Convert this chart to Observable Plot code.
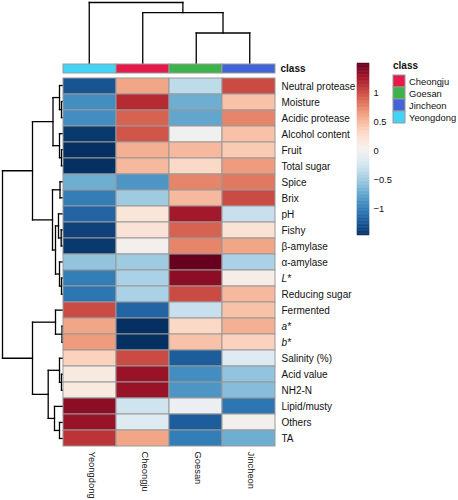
<!DOCTYPE html>
<html><head><meta charset="utf-8">
<script src="https://cdn.jsdelivr.net/npm/d3@7"></script>
<script src="https://cdn.jsdelivr.net/npm/@observablehq/plot@0.6"></script>
<style>
body{margin:0;background:#fff;font-family:"Liberation Sans",Arial,sans-serif}
#chart{position:relative;width:458px;height:500px;overflow:hidden}
#chart > *{position:absolute}
svg{overflow:visible}
.ttl{font-size:10px;font-weight:bold;color:#111;line-height:12px}
</style>
</head><body><div id="chart"></div>
<script>
const samples = ["Yeongdong","Cheongju","Goesan","Jincheon"];
const traits = ["Neutral protease","Moisture","Acidic protease","Alcohol content","Fruit","Total sugar","Spice","Brix","pH","Fishy","β-amylase","α-amylase","L*","Reducing sugar","Fermented","a*","b*","Salinity (%)","Acid value","NH2-N","Lipid/musty","Others","TA"];
const italicTraits = ["L*","a*","b*"];
const yeongdong = [-1.25,-0.9,-0.9,-1.4,-1.45,-1.45,-0.7,-1.0,-1.15,-1.35,-1.4,-0.55,-1.0,-1.05,1.0,0.6,0.65,0.35,0.15,0.15,1.35,1.3,1.1];
const cheongju  = [0.6,1.15,0.9,0.95,0.55,0.5,-0.85,-0.5,0.2,0.22,0.05,-0.5,-0.45,-0.45,-1.15,-1.45,-1.45,1.0,1.3,1.3,-0.25,-0.15,0.6];
const goesan    = [-0.35,-0.7,-0.75,0.0,0.5,0.3,0.75,0.5,1.25,0.9,0.75,1.5,1.35,1.0,-0.3,0.3,0.45,-1.2,-0.9,-0.85,-0.05,-1.2,-1.0];
const jincheon  = [1.0,0.45,0.75,0.45,0.4,0.65,0.8,1.0,-0.3,0.23,0.6,-0.45,0.1,0.5,0.45,0.55,0.35,-0.15,-0.55,-0.6,-1.05,0.05,-0.7];
const classNames = ["Cheongju","Goesan","Jincheon","Yeongdong"];
const classColors = ["#e6194B","#3cb44b","#4363d8","#42d4f4"];
const legendTicks = [1,0.5,0,-0.5,-1];
const valueDomain = [-1.45,1.5];
// hclust-style merges: negative = leaf (1-based display order), positive = earlier merge
const colMergeA = [-3,-2,-1];
const colMergeB = [-4,1,2];
const colMergeHeight = [3.1,5.1,6.1];
const rowMergeA = [-2,-1,-5,-4,2,-7,-10,-9,-13,-12,8,6,5,-16,-15,-19,-18,-22,-21,17,15,13];
const rowMergeB = [-3,1,-6,3,4,-8,-11,7,-14,9,10,11,12,-17,14,-20,16,-23,18,19,20,21];
const rowMergeHeight = [0.1,0.3,0.1,0.3,0.95,0.25,0.13,0.4,0.1,0.3,0.7,1.0,3.0,0.05,0.7,0.1,0.3,0.3,0.8,1.43,3.0,6.0];

function dendro(A,B,H){
  const nodes=[]; const segs=[];
  const get=k=>k<0?{p:-k-1,h:0}:nodes[k-1];
  for(let i=0;i<A.length;i++){
    const a=get(A[i]), b=get(B[i]), h=H[i];
    nodes.push({p:(a.p+b.p)/2,h});
    segs.push({p1:a.p,h1:a.h,p2:a.p,h2:h},{p1:a.p,h1:h,p2:b.p,h2:h},{p1:b.p,h1:h,p2:b.p,h2:b.h});
  }
  return segs;
}
const font={fontFamily:"Liberation Sans, Arial, sans-serif",fontSize:"10px",color:"#111",background:"transparent",overflow:"visible"};
const smallFont={...font,fontSize:"9.4px"};
const chart=document.getElementById("chart");
function place(el,left,top){el.style.left=left+"px";el.style.top=top+"px";chart.appendChild(el);}

// column dendrogram
place(Plot.plot({width:214,height:64,marginLeft:0,marginRight:0,marginTop:2,marginBottom:0,style:font,
  x:{domain:[-0.5,samples.length-0.5],axis:null},
  y:{domain:[0,d3.max(colMergeHeight)],axis:null},
  marks:[Plot.link(dendro(colMergeA,colMergeB,colMergeHeight),{x1:"p1",y1:"h1",x2:"p2",y2:"h2",stroke:"#000",strokeWidth:1.3,strokeLinecap:"square"})]
}),62,0);

// row dendrogram
place(Plot.plot({width:62,height:369,marginLeft:2,marginRight:0,marginTop:0,marginBottom:0,style:font,
  x:{domain:[0,d3.max(rowMergeHeight)],reverse:true,axis:null},
  y:{domain:[-0.5,traits.length-0.5],reverse:true,axis:null},
  marks:[Plot.link(dendro(rowMergeA,rowMergeB,rowMergeHeight),{x1:"h1",y1:"p1",x2:"h2",y2:"p2",stroke:"#000",strokeWidth:1.3,strokeLinecap:"square"})]
}),0,77);

// class annotation bar
place(Plot.plot({width:294,height:9,marginLeft:0,marginRight:80,marginTop:0,marginBottom:0,style:font,
  x:{domain:samples,padding:0,axis:null},
  color:{domain:classNames,range:classColors},
  marks:[
    Plot.cell(samples,{x:d=>d,fill:d=>d,stroke:"#999",strokeWidth:1}),
    Plot.text(["class"],{text:d=>d,frameAnchor:"right",dx:4,textAnchor:"start",fontWeight:"bold",fill:"#111"})
  ]
}),62,64);

// heatmap
const series=[yeongdong,cheongju,goesan,jincheon];
const table=[];
traits.forEach((t,i)=>samples.forEach((s,j)=>table.push({trait:t,sample:s,value:series[j][i]})));
const colorOpts={type:"linear",scheme:"RdBu",reverse:true,domain:valueDomain};
place(Plot.plot({width:394,height:423,marginLeft:0,marginRight:180,marginTop:0,marginBottom:54,style:font,
  x:{domain:samples,padding:0,axis:null},
  y:{domain:traits,padding:0,axis:null},
  color:colorOpts,
  marks:[
    Plot.cell(table,{x:"sample",y:"trait",fill:"value",stroke:"#999",strokeWidth:1}),
    Plot.text(traits.filter(t=>!italicTraits.includes(t)),{y:d=>d,text:d=>d,frameAnchor:"right",dx:5,textAnchor:"start",fill:"#111"}),
    Plot.text(italicTraits,{y:d=>d,text:d=>d,frameAnchor:"right",dx:5,textAnchor:"start",fontStyle:"italic",fill:"#111"}),
    Plot.text(samples,{x:d=>d,text:d=>d,frameAnchor:"bottom",rotate:90,textAnchor:"start",dy:5,dx:-1,fontSize:9.4,fill:"#111"})
  ]
}),62,77);

// color bar legend
const nSteps=120, step=(valueDomain[1]-valueDomain[0])/nSteps;
const stops=d3.range(nSteps).map(i=>({lo:valueDomain[0]+i*step,hi:valueDomain[0]+(i+1)*step}));
place(Plot.plot({width:60,height:172,marginLeft:0,marginRight:48,marginTop:0,marginBottom:0,style:smallFont,
  y:{domain:valueDomain,axis:null},
  color:colorOpts,
  marks:[
    Plot.rect(stops,{y1:"lo",y2:"hi",fill:d=>(d.lo+d.hi)/2,stroke:d=>(d.lo+d.hi)/2,strokeWidth:0.5}),
    Plot.text(legendTicks,{y:d=>d,text:d=>String(d).replace("-","\u2212"),frameAnchor:"right",dx:4,textAnchor:"start",fill:"#111"})
  ]
}),357,63);

// class legend
const t=document.createElement("div"); t.className="ttl"; t.textContent="class"; place(t,393,60);
place(Plot.plot({width:62,height:50.5,marginLeft:0,marginRight:50,marginTop:0,marginBottom:0,style:smallFont,
  y:{domain:classNames,padding:0,axis:null},
  color:{domain:classNames,range:classColors},
  marks:[
    Plot.cell(classNames,{y:d=>d,fill:d=>d,stroke:"#999",strokeWidth:1}),
    Plot.text(classNames,{y:d=>d,text:d=>d,frameAnchor:"right",dx:3.5,textAnchor:"start",fill:"#111"})
  ]
}),393,73.5);
</script></body></html>
